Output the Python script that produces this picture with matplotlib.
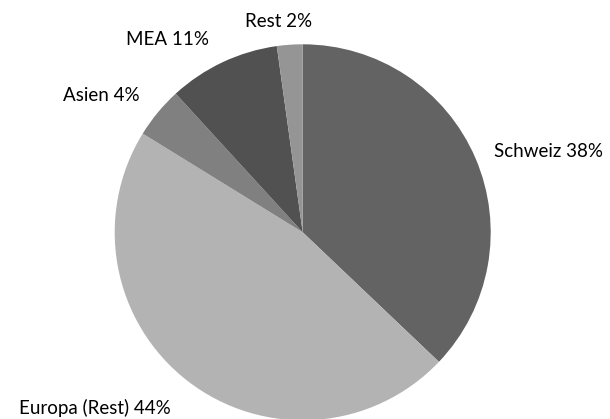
import matplotlib.pyplot as plt

# Anteile, so wie sie im Bild gezeichnet sind (Schweiz zuerst, im Uhrzeigersinn)
regions = ['Schweiz', 'Europa (Rest)', 'Asien', 'MEA', 'Rest']
shares = [37.1, 46.7, 4.4, 9.6, 2.2]
label_pct = ['38%', '44%', '4%', '11%', '2%']
colors = ['#636363', '#b3b3b3', '#808080', '#515151', '#959595']

# Label-Positionen (Datenkoordinaten, Radius = 1) und Ausrichtung
label_pos = [(1.017, 0.43), (-0.70, -0.935), (-0.865, 0.73), (-0.719, 1.023), (-0.126, 1.12)]
label_ha = ['left', 'right', 'right', 'center', 'center']

fig = plt.figure(figsize=(6.10, 4.19), dpi=100)
cx, cy, r = 302.7, 232.3, 188.0
ax = fig.add_axes([(cx - r) / 610, (419 - cy - r) / 419, 2 * r / 610, 2 * r / 419])

ax.pie(shares, colors=colors, startangle=90, counterclock=False,
       wedgeprops=dict(linewidth=0))
ax.set_xlim(-1, 1)
ax.set_ylim(-1, 1)
ax.set_aspect('equal')
ax.axis('off')

for name, pct, (x, y), ha in zip(regions, label_pct, label_pos, label_ha):
    ax.text(x, y, f'{name} {pct}', ha=ha, va='center', fontsize=13.5,
            family='Lato', color='#000000', clip_on=False)

fig.savefig('out.png', dpi=100)
